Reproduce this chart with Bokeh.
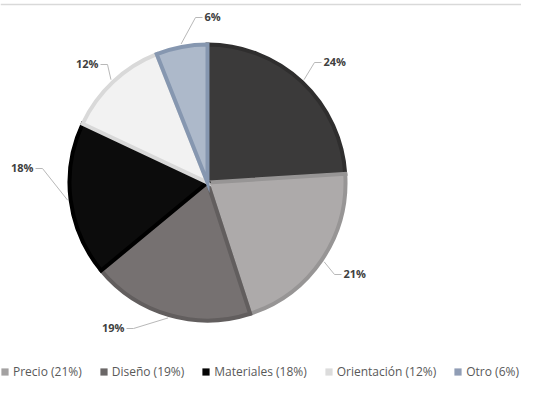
import math
from bokeh.plotting import figure
from bokeh.models import ColumnDataSource, Range1d, Span, Legend, LegendItem
from bokeh.core.properties import value
from bokeh.embed import file_html
from bokeh.resources import INLINE

# ---- data ----
categories = ["Ubicación", "Precio", "Diseño", "Materiales", "Orientación", "Otro"]
shares = [24, 21, 19, 18, 12, 6]
fill_colors = ["#3b3a3a", "#adaaaa", "#767171", "#0c0c0c", "#f2f2f2", "#adb9ca"]
edge_colors = ["#2f2e2e", "#979595", "#625e5e", "#000000", "#d9d9d9", "#8697b0"]
swatch_colors = ["#353434", "#a3a1a1", "#6b6767", "#050505", "#dcdcdc", "#909db5"]
legend_shown = [False, True, True, True, True, True]

# ---- layout (pixel coordinates, y measured from the top) ----
W, H = 521, 380
def fy(y):  # top-down pixel -> data y (bottom-up)
    return H - y

cx, cy = 207, fy(182)
R = 138
# label anchor: (x, y, side)  side 'l' = text to the right of the leader
label_pos = [(323, 61, "l"), (343, 273, "l"), (124, 327, "r"),
             (33, 167, "r"), (98, 63, "r"), (204, 16, "l")]

p = figure(width=W, height=H, output_backend="svg", toolbar_location=None,
           x_range=Range1d(0, W), y_range=Range1d(0, H),
           min_border=0, outline_line_color=None)
p.axis.visible = False
p.grid.visible = False
p.background_fill_color = "white"
p.border_fill_color = "white"

total = sum(shares)
starts, ends, mids = [], [], []
acc = 0
for s in shares:
    a0 = math.pi / 2 - 2 * math.pi * acc / total
    acc += s
    a1 = math.pi / 2 - 2 * math.pi * acc / total
    starts.append(a0); ends.append(a1); mids.append((a0 + a1) / 2)

src = ColumnDataSource(dict(start=starts, end=ends, fill=fill_colors, edge=edge_colors,
                            swatch=swatch_colors))
p.wedge(x=cx, y=cy, radius=R, start_angle="start", end_angle="end", direction="clock",
        fill_color="fill", line_color="edge", line_width=4, line_join="miter", source=src)
# zero-radius twin used only for the legend swatches
leg_r = p.wedge(x=cx, y=cy, radius=0, start_angle="start", end_angle="end", direction="clock",
                fill_color="swatch", line_color=None, source=src)

# leader lines and labels
xs, ys = [], []
lx, ly, lt, rx, ry, rt = [], [], [], [], [], []
for s, m, (tx, ty, side) in zip(shares, mids, label_pos):
    ex = cx + (R + 3) * math.cos(m)
    ey = cy + (R + 3) * math.sin(m)
    if side == "l":
        xs.append([ex, tx - 9, tx - 2]); lx.append(tx); ly.append(fy(ty)); lt.append(f"{s}%")
    else:
        xs.append([ex, tx + 9, tx + 2]); rx.append(tx); ry.append(fy(ty)); rt.append(f"{s}%")
    ys.append([ey, fy(ty + 1), fy(ty + 1)])
p.multi_line(xs=xs, ys=ys, line_color="#b8b8b8", line_width=1)
p.text(x=lx, y=ly, text=lt, text_align="left", text_baseline="middle",
       text_font=value("Open Sans"), text_font_style="bold", text_font_size="11px",
       text_color="#404040")
p.text(x=rx, y=ry, text=rt, text_align="right", text_baseline="middle",
       text_font=value("Open Sans"), text_font_style="bold", text_font_size="11px",
       text_color="#404040")

# top rule
p.add_layout(Span(location=fy(4), dimension="width", line_color="#d9d9d9", line_width=1.5))

# legend
items = []
for i, (cat, s, shown) in enumerate(zip(categories, shares, legend_shown)):
    if shown:
        items.append(LegendItem(label=f"{cat} ({s}%)", renderers=[leg_r], index=i))
legend = Legend(items=items, orientation="horizontal", location=(0, 0),
                glyph_width=9, glyph_height=9, label_standoff=4, spacing=17,
                padding=0, margin=0, border_line_color=None, background_fill_alpha=0,
                label_text_font="Open Sans", label_text_font_size="12px",
                label_text_color="#595959")
p.add_layout(legend, "center")

open("out.html", "w").write(file_html(p, INLINE))
